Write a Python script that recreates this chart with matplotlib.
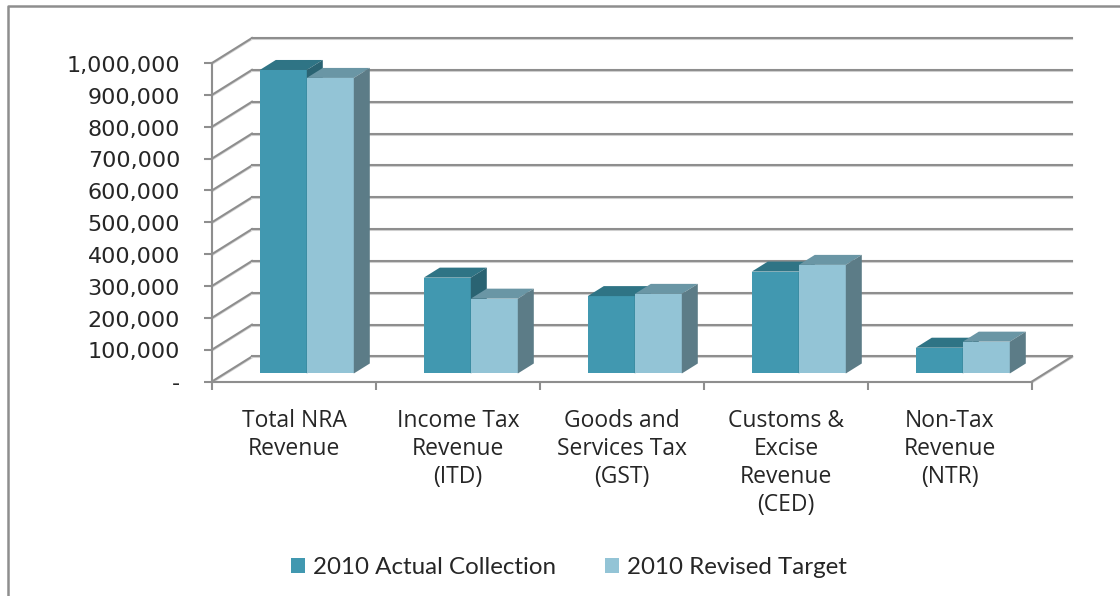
import matplotlib
matplotlib.use("Agg")
import matplotlib.pyplot as plt
import matplotlib.patheffects as pe
from matplotlib.lines import Line2D
from matplotlib.patches import Patch, Polygon
from matplotlib.transforms import ScaledTranslation

# Revenue figures by agency
categories = [
    "Total NRA\nRevenue",
    "Income Tax\nRevenue\n(ITD)",
    "Goods and\nServices Tax\n(GST)",
    "Customs &\nExcise\nRevenue\n(CED)",
    "Non-Tax\nRevenue\n(NTR)",
]
actual = [953000, 301000, 243000, 320000, 81000]
target = [928000, 235000, 250000, 341000, 100000]
y_ticks = [0, 100000, 200000, 300000, 400000, 500000, 600000, 700000, 800000, 900000, 1000000]
y_labels = ["-", "100,000", "200,000", "300,000", "400,000", "500,000",
            "600,000", "700,000", "800,000", "900,000", "1,000,000"]

GREY = "#8e8e8e"
TEXT = "#262626"
ACTUAL_COLORS = ("#4198b0", "#2f7485", "#2a6372")  # front, top, side
TARGET_COLORS = ("#93c4d6", "#6a96a5", "#5c7c87")

fig = plt.figure(figsize=(11.2, 5.96), dpi=100)
ax = fig.add_axes([212 / 1120, 1 - 381.5 / 596, 820 / 1120, 318.5 / 596])
ax.set_xlim(0, 5)
ax.set_ylim(0, 1000000)
for s in ax.spines.values():
    s.set_visible(False)

# size of the fake 3D floor, in data units
depth_x = 40 / 164
depth_y = 78500
bar_width = 0.2866

# grid lines carry a faint shadow underneath
soft = [pe.SimpleLineShadow(offset=(0, -0.7), shadow_color="#d2d2d2", alpha=1), pe.Normal()]


def depth(x, y, d):
    return (x + depth_x * d, y + depth_y * d)


def wall_line(xs, ys, z):
    ax.add_line(Line2D(xs, ys, color=GREY, lw=1.5, zorder=z, clip_on=False, path_effects=soft))


def draw_bar(left, value, colors, z):
    right = left + bar_width
    front = 0.32
    back = 0.72
    ax.add_patch(Polygon([depth(left, 0, front), depth(right, 0, front),
                          depth(right, value, front), depth(left, value, front)],
                         facecolor=colors[0], edgecolor="none", zorder=z, clip_on=False))
    ax.add_patch(Polygon([depth(left, value, front), depth(right, value, front),
                          depth(right, value, back), depth(left, value, back)],
                         facecolor=colors[1], edgecolor="none", zorder=z, clip_on=False))
    ax.add_patch(Polygon([depth(right, 0, front), depth(right, 0, back),
                          depth(right, value, back), depth(right, value, front)],
                         facecolor=colors[2], edgecolor="none", zorder=z, clip_on=False))


# walls and floor
for t in y_ticks:
    x0, y0 = depth(0, t, 1)
    x1, y1 = depth(5, t, 1)
    wall_line([0, x0], [t, y0], 1)
    wall_line([x0, x1], [y0, y1], 1)
x0, y0 = depth(5, 0, 1)
wall_line([5, x0], [0, y0], 1)
wall_line([0, 5], [0, 0], 2)
wall_line([0, 0], [0, 1000000], 2)

# bars
for i in range(len(categories)):
    left = i + 0.5 - bar_width
    draw_bar(left, actual[i], ACTUAL_COLORS, 3 + i * 2)
    draw_bar(left + bar_width, target[i], TARGET_COLORS, 4 + i * 2)

ax.set_yticks(y_ticks)
ax.set_yticklabels(y_labels, fontsize=16, color=TEXT)
ax.tick_params(axis="y", length=6, width=1.5, color=GREY, pad=17)
shift = ScaledTranslation(0, -0.6 / 72, fig.dpi_scale_trans)
for lab in ax.get_yticklabels():
    lab.set_transform(lab.get_transform() + shift)

ax.set_xticks(range(6))
ax.set_xticklabels([])
ax.tick_params(axis="x", which="major", length=6, width=1.5, color=GREY)
ax.set_xticks([i + 0.5 for i in range(5)], minor=True)
ax.set_xticklabels(categories, minor=True, fontsize=16.5, color=TEXT,
                   family="Open Sans", linespacing=1.21)
ax.tick_params(axis="x", which="minor", length=0, pad=20)

# outer chart frame, open at the right and bottom
fig.add_artist(Line2D([8 / 1120, 8 / 1120, 1], [0, 1 - 6 / 596, 1 - 6 / 596],
                      color=GREY, lw=1.8, transform=fig.transFigure))

handles = [Patch(facecolor=ACTUAL_COLORS[0], label="2010 Actual Collection"),
           Patch(facecolor=TARGET_COLORS[0], label="2010 Revised Target")]
fig.legend(handles=handles, loc="center", bbox_to_anchor=(569 / 1120, 1 - 568 / 596),
           ncol=2, frameon=False, prop={"family": "Lato", "size": 17.4},
           handlelength=0.58, handleheight=0.58, handletextpad=0.33, columnspacing=2.0,
           labelcolor=TEXT)

fig.savefig("out.png", dpi=100)
